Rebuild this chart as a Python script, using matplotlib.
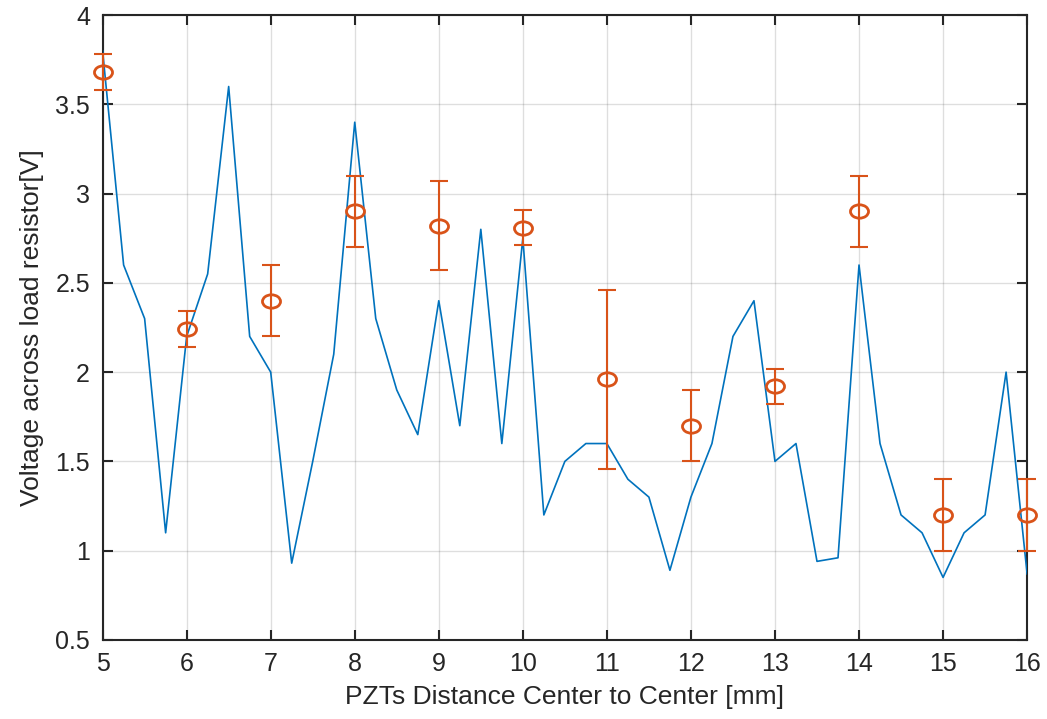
import matplotlib
matplotlib.use('Agg')
import matplotlib.pyplot as plt
from matplotlib.path import Path
import numpy as np

# blue trace, sampled every 0.25 mm
x_line = np.arange(5, 16.01, 0.25)
v_line = [3.8, 2.6, 2.3, 1.1, 2.2, 2.55, 3.6, 2.2, 2.0, 0.93, 1.5, 2.1,
          3.4, 2.3, 1.9, 1.65, 2.4, 1.7, 2.8, 1.6, 2.75, 1.2, 1.5, 1.6,
          1.6, 1.4, 1.3, 0.89, 1.3, 1.6, 2.2, 2.4, 1.5, 1.6, 0.94, 0.96,
          2.6, 1.6, 1.2, 1.1, 0.85, 1.1, 1.2, 2.0, 0.87]

# measured points with error bars
x_meas = [5, 6, 7, 8, 9, 10, 11, 12, 13, 14, 15, 16]
v_meas = [3.68, 2.24, 2.4, 2.9, 2.82, 2.81, 1.96, 1.7, 1.92, 2.9, 1.2, 1.2]
v_err = [0.1, 0.1, 0.2, 0.2, 0.25, 0.1, 0.5, 0.2, 0.1, 0.2, 0.2, 0.2]

plt.rcParams['font.family'] = ['Liberation Sans', 'DejaVu Sans']

# the source image is stretched sideways, so the circles come out as ellipses
circ = Path.unit_circle()
ellipse = Path(circ.vertices * [1.35, 1.0], circ.codes)

fig = plt.figure(figsize=(10.47, 7.19), dpi=100)
ax = fig.add_axes([0.098, 0.110, 0.883, 0.869])

ax.plot(x_line, v_line, color='#0072BD', lw=1.2, zorder=3)
ax.errorbar(x_meas, v_meas, yerr=v_err, fmt='none', ecolor='#D95319',
            elinewidth=1.5, capsize=6.5, capthick=1.5, zorder=4,
            clip_on=False)
ax.plot(x_meas, v_meas, ls='none', marker=ellipse, ms=13, mfc='none',
        mec='#D95319', mew=2, zorder=5, clip_on=False)

ax.set_xlim(5, 16)
ax.set_ylim(0.5, 4)
ax.set_xticks(range(5, 17))
ax.set_yticks(np.arange(0.5, 4.01, 0.5))
ax.set_yticklabels(['0.5', '1', '1.5', '2', '2.5', '3', '3.5', '4'])

ax.grid(True, color='#262626', alpha=0.15, lw=1)
ax.set_axisbelow(True)
ax.tick_params(direction='in', length=7, width=1.5, top=True, right=True,
               labelsize=18, colors='#262626', pad=9)
for sp in ax.spines.values():
    sp.set_color('#262626')
    sp.set_linewidth(1.5)

ax.set_xlabel('PZTs Distance Center to Center [mm]', fontsize=19,
              color='#262626', labelpad=6)
ax.set_ylabel('Voltage across load resistor[V]', fontsize=19,
              color='#262626', labelpad=8)

fig.savefig('out.png', dpi=100)
